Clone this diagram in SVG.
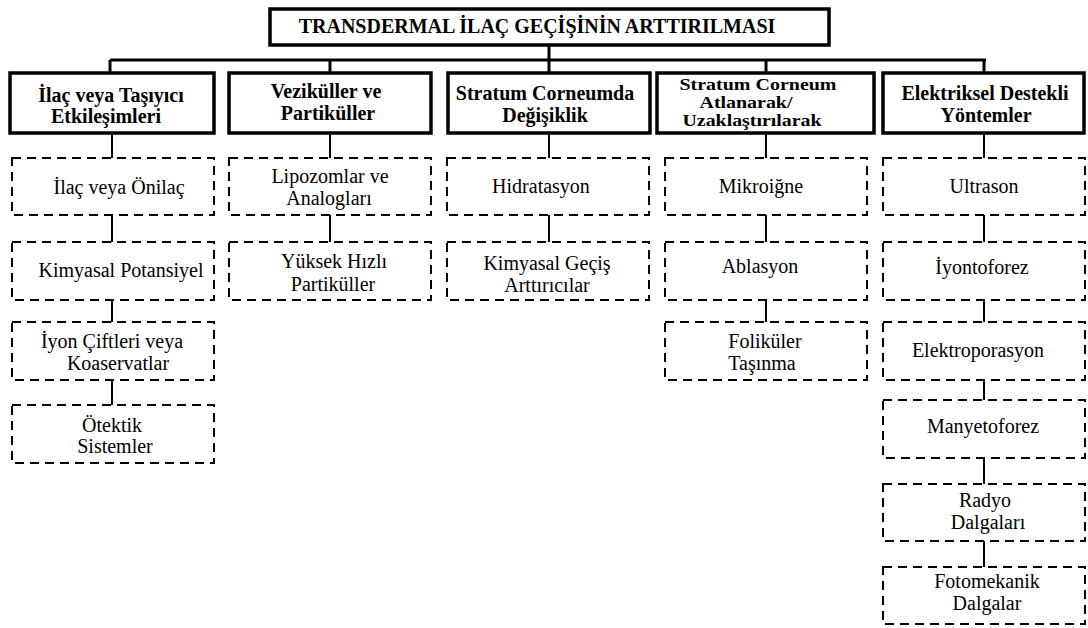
<svg xmlns="http://www.w3.org/2000/svg" width="1088" height="628" viewBox="0 0 1088 628">
<style>
.hb{fill:#fff;stroke:#000;stroke-width:3.5}
.db{fill:#fff;stroke:#000;stroke-width:2;stroke-dasharray:9 6}
.ln{stroke:#000;stroke-width:3;fill:none}
.sl{stroke:#000;stroke-width:2;fill:none}
.bt{font-family:"Liberation Serif","Times New Roman",serif;font-weight:bold;font-size:20px;text-anchor:middle;fill:#000}
.bs{font-size:16.5px}
.rt{font-family:"Liberation Serif","Times New Roman",serif;font-size:20px;text-anchor:middle;fill:#000}
</style>
<rect width="1088" height="628" fill="#fff"/>
<g id="connectors">
<path class="ln" d="M549 45V60M110 60H986M110 60V73M330 60V73M549 60V73M766 60V73M984 60V73"/>
<path class="sl" d="M112 133V158M112 215V242M112 300V322M112 380V405"/>
<path class="sl" d="M330 133V158M330 215V242"/>
<path class="sl" d="M549 133V158M549 215V242"/>
<path class="sl" d="M766 133V158M766 215V242M766 300V322"/>
<path class="sl" d="M984 133V158M984 215V242M984 300V322M984 380V400M984 458V484M984 541V567"/>
</g>
<g id="title"><rect class="hb" x="270" y="9" width="559" height="36"/><text class="bt" x="537" y="33">TRANSDERMAL İLAÇ GEÇİŞİNİN ARTTIRILMASI</text></g>
<g id="h1"><rect class="hb" x="10" y="73" width="204" height="60"/><text class="bt" x="111" y="102">İlaç veya Taşıyıcı</text><text class="bt" x="106" y="123">Etkileşimleri</text></g>
<g id="h2"><rect class="hb" x="229" y="73" width="202" height="60"/><text class="bt" x="326" y="98">Veziküller ve</text><text class="bt" x="328" y="120">Partiküller</text></g>
<g id="h3"><rect class="hb" x="448" y="73" width="202" height="60"/><text class="bt" x="545" y="100">Stratum Corneumda</text><text class="bt" x="545" y="122">Değişiklik</text></g>
<g id="h4"><rect class="hb" x="657" y="73" width="217" height="60"/><text class="bt bs" x="758" y="89.5" textLength="157" lengthAdjust="spacingAndGlyphs">Stratum Corneum</text><text class="bt bs" x="746" y="107.5" textLength="93" lengthAdjust="spacingAndGlyphs">Atlanarak/</text><text class="bt bs" x="752" y="125.5" textLength="139" lengthAdjust="spacingAndGlyphs">Uzaklaştırılarak</text></g>
<g id="h5"><rect class="hb" x="883" y="73" width="201" height="60"/><text class="bt" x="985" y="100">Elektriksel Destekli</text><text class="bt" x="986" y="122">Yöntemler</text></g>
<g id="c1n1"><rect class="db" x="12" y="158" width="202" height="57"/><text class="rt" x="119" y="194">İlaç veya Önilaç</text></g>
<g id="c1n2"><rect class="db" x="12" y="242" width="202" height="58"/><text class="rt" x="121" y="277">Kimyasal Potansiyel</text></g>
<g id="c1n3"><rect class="db" x="12" y="322" width="202" height="58"/><text class="rt" x="112" y="348">İyon Çiftleri veya</text><text class="rt" x="118" y="370">Koaservatlar</text></g>
<g id="c1n4"><rect class="db" x="12" y="405" width="202" height="58"/><text class="rt" x="112" y="432">Ötektik</text><text class="rt" x="115" y="453">Sistemler</text></g>
<g id="c2n1"><rect class="db" x="229" y="158" width="202" height="57"/><text class="rt" x="330" y="183">Lipozomlar ve</text><text class="rt" x="329" y="205">Analogları</text></g>
<g id="c2n2"><rect class="db" x="229" y="242" width="202" height="58"/><text class="rt" x="334" y="268">Yüksek Hızlı</text><text class="rt" x="333" y="291">Partiküller</text></g>
<g id="c3n1"><rect class="db" x="447" y="158" width="202" height="57"/><text class="rt" x="541" y="193">Hidratasyon</text></g>
<g id="c3n2"><rect class="db" x="447" y="242" width="202" height="58"/><text class="rt" x="547" y="270">Kimyasal Geçiş</text><text class="rt" x="547" y="292">Arttırıcılar</text></g>
<g id="c4n1"><rect class="db" x="665" y="158" width="202" height="57"/><text class="rt" x="761" y="193">Mikroiğne</text></g>
<g id="c4n2"><rect class="db" x="665" y="242" width="202" height="58"/><text class="rt" x="760" y="273">Ablasyon</text></g>
<g id="c4n3"><rect class="db" x="665" y="322" width="202" height="58"/><text class="rt" x="765" y="348">Foliküler</text><text class="rt" x="762" y="370">Taşınma</text></g>
<g id="c5n1"><rect class="db" x="883" y="158" width="202" height="57"/><text class="rt" x="984" y="193">Ultrason</text></g>
<g id="c5n2"><rect class="db" x="883" y="242" width="202" height="58"/><text class="rt" x="982" y="274">İyontoforez</text></g>
<g id="c5n3"><rect class="db" x="883" y="322" width="202" height="58"/><text class="rt" x="978" y="357">Elektroporasyon</text></g>
<g id="c5n4"><rect class="db" x="883" y="400" width="202" height="58"/><text class="rt" x="983" y="433">Manyetoforez</text></g>
<g id="c5n5"><rect class="db" x="883" y="484" width="202" height="57"/><text class="rt" x="985" y="507">Radyo</text><text class="rt" x="988" y="529">Dalgaları</text></g>
<g id="c5n6"><rect class="db" x="883" y="567" width="202" height="57"/><text class="rt" x="987" y="588">Fotomekanik</text><text class="rt" x="987" y="610">Dalgalar</text></g>
</svg>
